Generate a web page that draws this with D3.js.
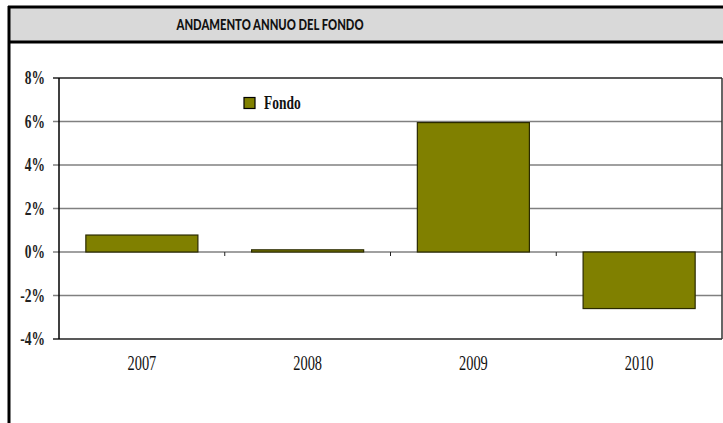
<!DOCTYPE html>
<html>
<head>
<meta charset="utf-8">
<script src="https://cdn.jsdelivr.net/npm/d3@7"></script>
<style>
  body { margin: 0; background: #fff; }
  svg { display: block; }
</style>
</head>
<body>
<div class="chart"></div>
<script>
// data
var years = ["2007", "2008", "2009", "2010"];
var fondo = [0.78, 0.1, 5.95, -2.6];
var yTicks = [-4, -2, 0, 2, 4, 6, 8];
var seriesName = "Fondo";
var title = "ANDAMENTO ANNUO DEL FONDO";

var W = 723, H = 423;
var plotL = 59, plotR = 722, plotT = 78, plotB = 339;

var svg = d3.select(".chart")
            .append("svg")
            .attr("width", W)
            .attr("height", H);

// title band
svg.append("rect")
   .attr("x", 9).attr("y", 7).attr("width", W).attr("height", 35)
   .style("fill", "#d9d9d9");
svg.append("line")
   .attr("x1", 8).attr("x2", W).attr("y1", 7).attr("y2", 7)
   .style("stroke", "#000").style("stroke-width", 3);
svg.append("line")
   .attr("x1", 8).attr("x2", W).attr("y1", 42).attr("y2", 42)
   .style("stroke", "#000").style("stroke-width", 3);
svg.append("line")
   .attr("x1", 9).attr("x2", 9).attr("y1", 6).attr("y2", H)
   .style("stroke", "#000").style("stroke-width", 3);

svg.append("text")
   .attr("x", 270).attr("y", 30)
   .attr("text-anchor", "middle")
   .style("font-family", "Lato, 'DejaVu Sans', sans-serif")
   .style("font-weight", "900")
   .style("font-size", "15px")
   .style("fill", "#111")
   .attr("textLength", 187)
   .attr("lengthAdjust", "spacingAndGlyphs")
   .text(title);

// scales
var gap = 0.324;
var x = d3.scaleBand()
          .domain(years)
          .range([plotL, plotR])
          .paddingInner(gap)
          .paddingOuter(gap / 2);

var y = d3.scaleLinear()
          .domain([-4, 8])
          .range([plotB, plotT]);

// gridlines
svg.append("g")
   .selectAll("line")
   .data(yTicks)
   .enter().append("line")
   .attr("x1", plotL - 6).attr("x2", plotR)
   .attr("y1", function(d) { return y(d); })
   .attr("y2", function(d) { return y(d); })
   .style("stroke", function(d) { return (d === 8 || d === -4) ? "#222" : "#808080"; })
   .style("stroke-width", 1.5);

// plot frame: left axis and right edge
svg.append("line")
   .attr("x1", plotL).attr("x2", plotL).attr("y1", plotT).attr("y2", plotB)
   .style("stroke", "#000").style("stroke-width", 1.5);
svg.append("line")
   .attr("x1", plotR).attr("x2", plotR).attr("y1", plotT).attr("y2", plotB)
   .style("stroke", "#333").style("stroke-width", 1.5);

// category ticks on the zero line
var step = x.step();
svg.append("g")
   .selectAll("line")
   .data(years.slice(1))
   .enter().append("line")
   .attr("x1", function(d) { return x(d) - step * gap / 2; })
   .attr("x2", function(d) { return x(d) - step * gap / 2; })
   .attr("y1", y(0)).attr("y2", y(0) + 4)
   .style("stroke", "#222").style("stroke-width", 1);

// bars
svg.append("g")
   .selectAll("rect")
   .data(fondo)
   .enter().append("rect")
   .attr("x", function(d, i) { return x(years[i]); })
   .attr("width", x.bandwidth())
   .attr("y", function(d) { return y(Math.max(0, d)); })
   .attr("height", function(d) { return Math.abs(y(d) - y(0)); })
   .style("fill", "#808000")
   .style("stroke", "#2a2a00")
   .style("stroke-width", 1.2);

// y labels
var serif = "'Liberation Serif', 'Times New Roman', serif";
svg.append("g")
   .selectAll("text")
   .data(yTicks)
   .enter().append("text")
   .attr("transform", function(d) { return "translate(45," + (y(d) + 6) + ") scale(0.75,1)"; })
   .attr("text-anchor", "end")
   .style("font-family", serif)
   .style("font-weight", "bold")
   .style("font-size", "18px")
   .style("fill", "#222")
   .text(function(d) { return d + "%"; });

// x labels
svg.append("g")
   .selectAll("text")
   .data(years)
   .enter().append("text")
   .attr("transform", function(d) { return "translate(" + (x(d) + x.bandwidth() / 2) + ",370) scale(0.72,1)"; })
   .attr("text-anchor", "middle")
   .style("font-family", serif)
   .style("font-size", "20px")
   .style("fill", "#111")
   .text(function(d) { return d; });

// legend
svg.append("rect")
   .attr("x", 244).attr("y", 97.5).attr("width", 11).attr("height", 11)
   .style("fill", "#808000").style("stroke", "#000").style("stroke-width", 1.2);
svg.append("text")
   .attr("transform", "translate(264,109) scale(0.75,1)")
   .style("font-family", serif)
   .style("font-weight", "bold")
   .style("font-size", "18px")
   .style("fill", "#111")
   .text(seriesName);
</script>
</body>
</html>
